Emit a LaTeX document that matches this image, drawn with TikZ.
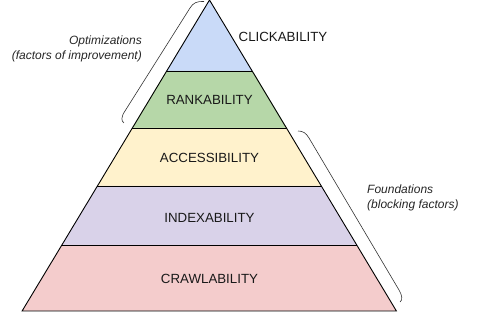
\documentclass[tikz,border=0pt]{standalone}
\usepackage{fontspec}
\setmainfont{Liberation Sans}
\usepackage{xcolor}
\usetikzlibrary{positioning}
\definecolor{clickblue}{HTML}{C9DAF8}
\definecolor{rankgreen}{HTML}{B6D7A8}
\definecolor{accessyellow}{HTML}{FFF2CC}
\definecolor{indexpurple}{HTML}{D9D2E9}
\definecolor{crawlred}{HTML}{F4CCCC}
\tikzset{
    layer/.style={draw=black, line width=0.9pt, line join=miter},
    layer label/.style={font=\fontsize{13.3}{15}\selectfont, text=black!90, inner sep=0pt},
    side note/.style={font=\fontsize{12}{15}\selectfont\itshape, text=black!85, inner sep=0pt},
    bracket/.style={draw=black!80, line width=0.6pt}
}
\begin{document}
\begin{tikzpicture}[x=1pt, y=-1pt]
    \useasboundingbox (0,0) rectangle (496,312);

    % Schichten der Pyramide
    \fill[clickblue] (209.5,0) -- (252.7,71) -- (166.3,71) -- cycle;
    \fill[rankgreen] (166.3,71) -- (252.7,71) -- (286.9,128) -- (132.1,128) -- cycle;
    \fill[accessyellow] (132.1,128) -- (286.9,128) -- (321.3,186) -- (97.2,186) -- cycle;
    \fill[indexpurple] (97.2,186) -- (321.3,186) -- (356.7,245) -- (61.8,245) -- cycle;
    \fill[crawlred] (61.8,245) -- (356.7,245) -- (396.4,311) -- (22.1,311) -- cycle;

    % Umriss und Trennlinien
    \draw[layer] (209.5,0) -- (396.4,311) -- (22.1,311) -- cycle;
    \draw[layer] (166.3,71) -- (252.7,71);
    \draw[layer] (132.1,128) -- (286.9,128);
    \draw[layer] (97.2,186) -- (321.3,186);
    \draw[layer] (61.8,245) -- (356.7,245);

    % Beschriftungen
    \node[layer label] (click) at (283,37) {CLICKABILITY};
    \node[layer label] (rank) at (209.5,100) {RANKABILITY};
    \node[layer label] (access) at (209.5,158) {ACCESSIBILITY};
    \node[layer label] (index) at (209.5,218) {INDEXABILITY};
    \node[layer label] (crawl) at (209.5,279) {CRAWLABILITY};

    % Klammern
    \draw[bracket] (204,1.5) .. controls (197,1) and (193,3) .. (190,8)
        -- (125,111) .. controls (121,117) and (121,121) .. (124,123);
    \draw[bracket] (298,131) .. controls (303,131) and (306,133) .. (309,138)
        -- (399,290) .. controls (402,295) and (403,300) .. (400,302);

    % Seitliche Hinweise
    \node[side note, anchor=east, align=right] (optim) at (142,49)
        {Optimizations\\(factors of improvement)};
    \node[side note, anchor=west, align=left] (found) at (367,198)
        {Foundations\\(blocking factors)};
\end{tikzpicture}
\end{document}
